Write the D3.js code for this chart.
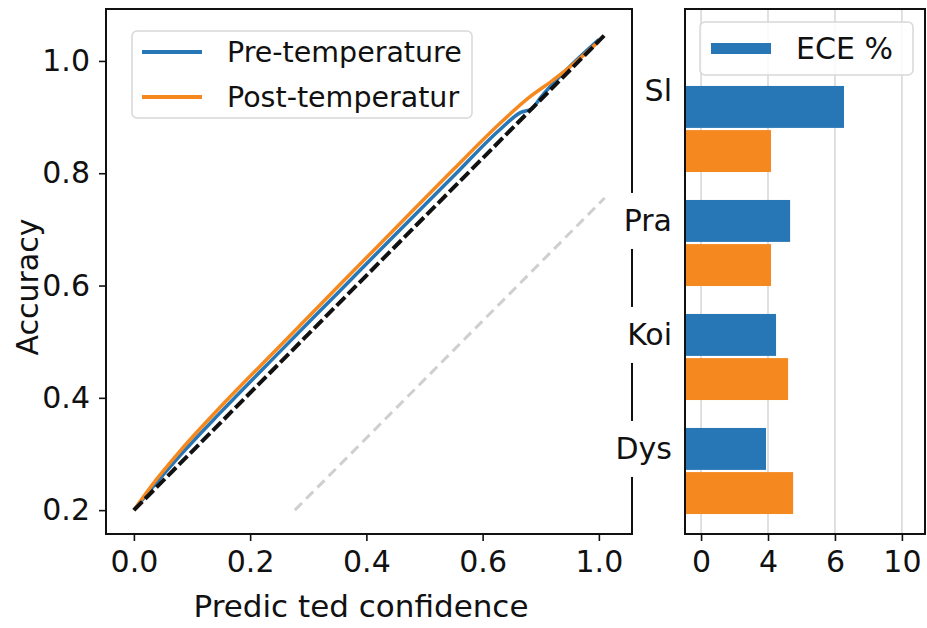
<!DOCTYPE html>
<html>
<head>
<meta charset="utf-8">
<script src="https://cdn.jsdelivr.net/npm/d3@7"></script>
<style>
  body { margin: 0; background: #fff; }
  svg { display: block; font-family: "DejaVu Sans", sans-serif; }
</style>
</head>
<body>
<svg id="chart" width="927" height="628"></svg>
<script>
// reliability diagram (left)
const confTicks = [0, 0.2, 0.4, 0.6, 0.8];
const confTickLabels = ['0.0', '0.2', '0.4', '0.6', '1.0'];
const accTicks = [0.2, 0.4, 0.6, 0.8, 1.0];

const preConf = [0, 0.03, 0.08, 0.15, 0.25, 0.35, 0.45, 0.55, 0.63, 0.665, 0.685, 0.70, 0.75, 0.80];
const preAcc  = [0.2, 0.238, 0.298, 0.375, 0.481, 0.586, 0.691, 0.795, 0.878, 0.908, 0.915, 0.935, 0.99, 1.038];

const postConf = [0, 0.03, 0.08, 0.15, 0.25, 0.35, 0.45, 0.55, 0.63, 0.68, 0.72, 0.76, 0.80];
const postAcc  = [0.2, 0.243, 0.306, 0.385, 0.491, 0.597, 0.702, 0.807, 0.889, 0.935, 0.965, 0.998, 1.035];

const idealConf = [0, 0.81];
const idealAcc = [0.2, 1.046];
const refConf = [0.277, 0.81];
const refAcc = [0.2, 0.756];

// ECE bars (right)
const datasets = ['Sl', 'Pra', 'Koi', 'Dys'];
const ecePre = [4.27, 2.66, 2.24, 1.94];
const ecePost = [2.09, 2.09, 2.6, 2.75];
const eceTicks = [0, 2, 4, 6];
const eceTickLabels = ['0', '4', '6', '10'];

const blue = '#2776b6';
const orange = '#f5891f';
const fontSize = 30;
const legendFontSize = 28.5;

const left = { x0: 106, x1: 632, y0: 9, y1: 534 };
const right = { x0: 685, x1: 925, y0: 9, y1: 534 };

const svg = d3.select('#chart');

drawReliability();
drawEce();

function drawReliability() {
    const x = d3.scaleLinear().domain([-0.048, 0.857]).range([left.x0, left.x1]);
    const y = d3.scaleLinear().domain([0.1575, 1.0925]).range([left.y1, left.y0]);

    const g = svg.append('g');

    const line = d3.line().x(d => x(d[0])).y(d => y(d[1]));

    g.append('path')
        .datum(d3.zip(refConf, refAcc))
        .attr('fill', 'none')
        .attr('stroke', '#cfcfcf')
        .attr('stroke-width', 3)
        .attr('stroke-dasharray', '10,6')
        .attr('d', line);

    g.append('path')
        .datum(d3.zip(preConf, preAcc))
        .attr('fill', 'none')
        .attr('stroke', blue)
        .attr('stroke-width', 3.5)
        .attr('d', line.curve(d3.curveMonotoneX));

    g.append('path')
        .datum(d3.zip(postConf, postAcc))
        .attr('fill', 'none')
        .attr('stroke', orange)
        .attr('stroke-width', 3.5)
        .attr('d', line.curve(d3.curveMonotoneX));

    g.append('path')
        .datum(d3.zip(idealConf, idealAcc))
        .attr('fill', 'none')
        .attr('stroke', '#111')
        .attr('stroke-width', 4)
        .attr('stroke-dasharray', '12,4')
        .attr('d', d3.line().x(d => x(d[0])).y(d => y(d[1])));

    // frame
    g.append('rect')
        .attr('x', left.x0).attr('y', left.y0)
        .attr('width', left.x1 - left.x0).attr('height', left.y1 - left.y0)
        .attr('fill', 'none').attr('stroke', '#111').attr('stroke-width', 2);

    // axes
    const xAxis = g.append('g')
        .attr('transform', 'translate(0,' + left.y1 + ')')
        .call(d3.axisBottom(x).tickValues(confTicks)
            .tickFormat((d, i) => confTickLabels[i]).tickSize(7).tickPadding(10));
    const yAxis = g.append('g')
        .attr('transform', 'translate(' + left.x0 + ',0)')
        .call(d3.axisLeft(y).tickValues(accTicks)
            .tickFormat(d3.format('.1f')).tickSize(7).tickPadding(9));
    [xAxis, yAxis].forEach(a => {
        a.select('.domain').remove();
        a.selectAll('line').attr('stroke', '#111').attr('stroke-width', 1.6);
        a.selectAll('text').attr('font-size', fontSize).attr('fill', '#111')
            .attr('font-family', '"DejaVu Sans", sans-serif');
    });

    // axis labels
    g.append('text')
        .attr('x', (left.x0 + left.x1) / 2 - 8)
        .attr('y', 617)
        .attr('text-anchor', 'middle')
        .attr('font-size', fontSize + 1)
        .attr('fill', '#111')
        .text('Predic ted confidence');

    g.append('text')
        .attr('transform', 'rotate(-90)')
        .attr('x', -287)
        .attr('y', 38)
        .attr('text-anchor', 'middle')
        .attr('font-size', fontSize)
        .attr('fill', '#111')
        .text('Accuracy');

    // legend
    g.append('rect')
        .attr('x', 132).attr('y', 31)
        .attr('width', 340).attr('height', 87)
        .attr('rx', 5)
        .attr('fill', '#fff').attr('fill-opacity', 0.85)
        .attr('stroke', '#d8d8d8').attr('stroke-width', 1.5);

    const legendItems = [['Pre-temperature', blue, 52], ['Post-temperatur', orange, 97]];
    legendItems.forEach(item => {
        g.append('line')
            .attr('x1', 142).attr('x2', 202)
            .attr('y1', item[2]).attr('y2', item[2])
            .attr('stroke', item[1]).attr('stroke-width', 4);
        g.append('text')
            .attr('x', 227)
            .attr('y', item[2])
            .attr('dominant-baseline', 'central')
            .attr('font-size', legendFontSize)
            .attr('fill', '#111')
            .text(item[0]);
    });
}

function drawEce() {
    const x = d3.scaleLinear().domain([-0.48, 6.69]).range([right.x0, right.x1]);
    const y = d3.scaleBand().domain(datasets).range([72, 528])
        .paddingInner(0.245).paddingOuter(0.1225);
    const ySub = d3.scaleBand().domain(['pre', 'post']).range([0, y.bandwidth()]).paddingInner(0.05);

    const g = svg.append('g');

    // grid
    g.selectAll('.grid')
        .data(eceTicks)
        .enter().append('line')
        .attr('x1', d => x(d)).attr('x2', d => x(d))
        .attr('y1', right.y0).attr('y2', right.y1)
        .attr('stroke', '#d6d6d6').attr('stroke-width', 1.5);

    const base = x.domain()[0];
    g.selectAll('.bar-pre')
        .data(datasets)
        .enter().append('rect')
        .attr('x', x(base))
        .attr('y', d => y(d) + ySub('pre'))
        .attr('width', (d, i) => x(ecePre[i]) - x(base))
        .attr('height', ySub.bandwidth())
        .attr('fill', blue);

    g.selectAll('.bar-post')
        .data(datasets)
        .enter().append('rect')
        .attr('x', x(base))
        .attr('y', d => y(d) + ySub('post'))
        .attr('width', (d, i) => x(ecePost[i]) - x(base))
        .attr('height', ySub.bandwidth())
        .attr('fill', orange);

    // frame
    g.append('rect')
        .attr('x', right.x0).attr('y', right.y0)
        .attr('width', right.x1 - right.x0).attr('height', right.y1 - right.y0)
        .attr('fill', 'none').attr('stroke', '#111').attr('stroke-width', 2);

    const xAxis = g.append('g')
        .attr('transform', 'translate(0,' + right.y1 + ')')
        .call(d3.axisBottom(x).tickValues(eceTicks)
            .tickFormat((d, i) => eceTickLabels[i]).tickSize(7).tickPadding(10));
    xAxis.select('.domain').remove();
    xAxis.selectAll('line').attr('stroke', '#111').attr('stroke-width', 1.6);
    xAxis.selectAll('text').attr('font-size', fontSize).attr('fill', '#111')
        .attr('font-family', '"DejaVu Sans", sans-serif');

    // category labels with white boxes (they cover the left frame)
    datasets.forEach((d, i) => {
        // the first label sits a little above its bar in the original
        const cy = y(d) + ySub('pre') + ySub.bandwidth() / 2 - (i === 0 ? 16 : 0);
        const label = g.append('text')
            .attr('x', 672)
            .attr('y', cy)
            .attr('text-anchor', 'end')
            .attr('dominant-baseline', 'central')
            .attr('font-size', fontSize)
            .attr('fill', '#111')
            .text(d);
        const bb = label.node().getBBox();
        g.insert('rect', () => label.node())
            .attr('x', bb.x - 3)
            .attr('y', cy - 28)
            .attr('width', bb.width + 6)
            .attr('height', 56)
            .attr('fill', '#fff');
    });

    // legend
    g.append('rect')
        .attr('x', 700).attr('y', 22)
        .attr('width', 213).attr('height', 53)
        .attr('rx', 5)
        .attr('fill', '#fff').attr('fill-opacity', 0.85)
        .attr('stroke', '#d8d8d8').attr('stroke-width', 1.5);
    g.append('rect')
        .attr('x', 711).attr('y', 43)
        .attr('width', 60).attr('height', 11)
        .attr('fill', blue);
    g.append('text')
        .attr('x', 796).attr('y', 48)
        .attr('dominant-baseline', 'central')
        .attr('font-size', fontSize)
        .attr('fill', '#111')
        .text('ECE %');
}
</script>
</body>
</html>
